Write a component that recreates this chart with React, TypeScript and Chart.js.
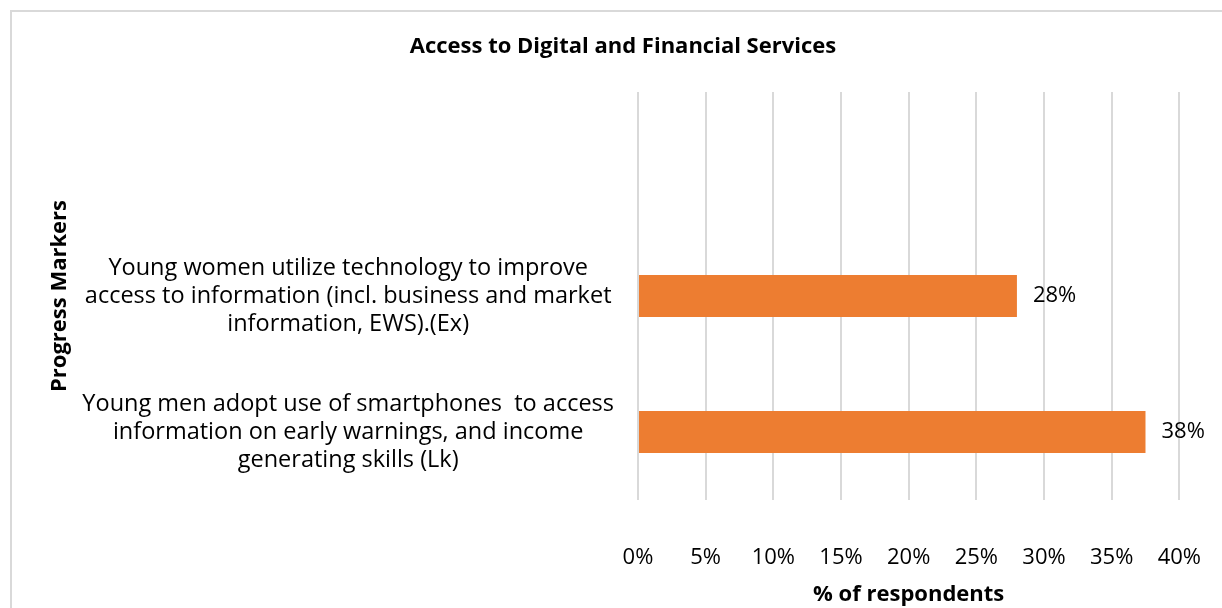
import React, { useEffect, useRef } from "react";
import { Chart, registerables } from "chart.js";

Chart.register(...registerables);

const chartTitle = "Access to Digital and Financial Services";
const yAxisTitle = "Progress Markers";
const xAxisTitle = "% of respondents";

const categories: (string | string[])[] = [
  "",
  [
    "Young women utilize technology to improve",
    "access to information (incl. business and market",
    "information, EWS).(Ex)",
  ],
  [
    "Young men adopt use of smartphones  to access",
    "information on early warnings, and income",
    "generating skills (Lk)",
  ],
];

const respondentsPct: (number | null)[] = [null, 28, 37.5];

const xMin = 0;
const xMax = 40;
const xStep = 5;

const FONT = "'Open Sans', 'Noto Sans', sans-serif";
const BAR_COLOR = "#ED7D31";
const GRID_COLOR = "#d9d9d9";
const TEXT_COLOR = "#000000";

const dataLabelPlugin = {
  id: "dataLabels",
  afterDatasetsDraw(chart: any) {
    const ctx = chart.ctx;
    chart.data.datasets.forEach((ds: any, di: number) => {
      const meta = chart.getDatasetMeta(di);
      meta.data.forEach((bar: any, i: number) => {
        const v = ds.data[i];
        if (v === null || v === undefined) return;
        ctx.save();
        ctx.font = `22px ${FONT}`;
        ctx.fillStyle = TEXT_COLOR;
        ctx.textAlign = "left";
        ctx.textBaseline = "middle";
        ctx.fillText(`${Math.round(v)}%`, bar.x + 16, bar.y);
        ctx.restore();
      });
    });
  },
};

const chartTitlePlugin = {
  id: "chartTitleText",
  afterDraw(chart: any) {
    const ctx = chart.ctx;
    ctx.save();
    ctx.font = `bold 22px ${FONT}`;
    ctx.fillStyle = TEXT_COLOR;
    ctx.textAlign = "center";
    ctx.textBaseline = "middle";
    ctx.fillText(chartTitle, 623, 47);
    ctx.restore();
  },
};

export default function App() {
  const canvasRef = useRef<HTMLCanvasElement | null>(null);

  useEffect(() => {
    document.documentElement.style.overflow = "hidden";
    const canvas = canvasRef.current;
    if (!canvas) return;
    const chart = new Chart(canvas, {
      type: "bar",
      data: {
        labels: categories as any,
        datasets: [
          {
            data: respondentsPct as any,
            backgroundColor: BAR_COLOR,
            borderWidth: 0,
            barPercentage: 0.309,
            categoryPercentage: 1,
          },
        ],
      },
      options: {
        indexAxis: "y",
        animation: false,
        responsive: false,
        maintainAspectRatio: false,
        layout: { padding: { left: 0, right: 62, top: 92, bottom: 0 } },
        plugins: {
          legend: { display: false },
          tooltip: { enabled: false },
          title: { display: false },
        },
        scales: {
          x: {
            type: "linear",
            min: xMin,
            max: xMax,
            ticks: {
              stepSize: xStep,
              padding: 45,
              color: TEXT_COLOR,
              font: { family: FONT, size: 22 },
              callback: (v: any) => `${v}%`,
            },
            grid: {
              color: GRID_COLOR,
              lineWidth: 2,
              drawTicks: false,
            },
            border: { display: false },
            title: {
              display: true,
              text: xAxisTitle,
              color: TEXT_COLOR,
              font: { family: FONT, size: 22, weight: "bold", lineHeight: 1.2 },
              padding: { top: 0, bottom: 0 },
            },
            afterFit: (scale: any) => {
              scale.height = 108;
            },
          },
          y: {
            type: "category",
            ticks: {
              padding: 24,
              crossAlign: "center",
              color: TEXT_COLOR,
              font: { family: FONT, size: 23.5, lineHeight: 1.19 },
            },
            grid: { display: false, drawTicks: false },
            border: { display: false },
            title: {
              display: true,
              text: yAxisTitle,
              color: TEXT_COLOR,
              font: { family: FONT, size: 22, weight: "bold", lineHeight: 1.2 },
              padding: { top: 47, bottom: 0 },
            },
            afterFit: (scale: any) => {
              scale.width = 638;
            },
          },
        },
      },
      plugins: [dataLabelPlugin, chartTitlePlugin],
    });
    return () => chart.destroy();
  }, []);

  return (
    <div>
      <div
        style={{
          position: "fixed",
          left: 10,
          top: 10,
          width: 1212,
          height: 598,
          boxSizing: "border-box",
          borderLeft: "2px solid #d9d9d9",
          borderTop: "2px solid #d9d9d9",
          background: "#ffffff",
        }}
      />
      <canvas
        ref={canvasRef}
        width={1246}
        height={608}
        style={{ position: "fixed", left: 0, top: 0, width: 1246, height: 608 }}
      />
    </div>
  );
}
